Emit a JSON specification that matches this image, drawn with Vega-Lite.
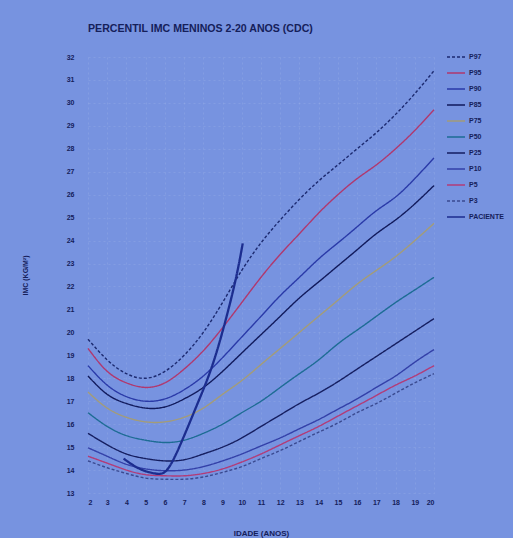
{
  "$schema": "https://vega.github.io/schema/vega-lite/v6.json",
  "width": 346,
  "height": 436,
  "autosize": {"type": "none"},
  "padding": {"left": 88, "top": 57, "right": 79, "bottom": 45},
  "background": "#7793e0",
  "title": {
    "text": "PERCENTIL IMC MENINOS 2-20 ANOS (CDC)",
    "anchor": "start",
    "frame": "group",
    "font": "Liberation Sans",
    "fontSize": 10.6,
    "fontWeight": "bold",
    "color": "#15205a",
    "offset": 12
  },
  "config": {
    "view": {"stroke": null},
    "font": "Liberation Sans",
    "axis": {"labelColor": "#15205a", "titleColor": "#15205a", "labelFont": "Liberation Sans", "titleFont": "Liberation Sans", "labelFontWeight": "bold", "titleFontWeight": "bold", "domain": false, "ticks": false, "gridColor": "#c8d4f4", "gridOpacity": 0.15, "gridDash": [2, 3]}
  },
  "data": {
    "values": [
      {"a":2,"v":19.7,"s":"P97"},{"a":3,"v":18.8,"s":"P97"},{"a":4,"v":18.2,"s":"P97"},{"a":5,"v":18.0,"s":"P97"},{"a":6,"v":18.3,"s":"P97"},{"a":7,"v":19.0,"s":"P97"},{"a":8,"v":20.0,"s":"P97"},{"a":9,"v":21.3,"s":"P97"},{"a":10,"v":22.7,"s":"P97"},{"a":11,"v":23.9,"s":"P97"},{"a":12,"v":24.9,"s":"P97"},{"a":13,"v":25.8,"s":"P97"},{"a":14,"v":26.6,"s":"P97"},{"a":15,"v":27.3,"s":"P97"},{"a":16,"v":28.0,"s":"P97"},{"a":17,"v":28.7,"s":"P97"},{"a":18,"v":29.5,"s":"P97"},{"a":19,"v":30.4,"s":"P97"},{"a":20,"v":31.4,"s":"P97"},
      {"a":2,"v":19.3,"s":"P95"},{"a":3,"v":18.3,"s":"P95"},{"a":4,"v":17.8,"s":"P95"},{"a":5,"v":17.6,"s":"P95"},{"a":6,"v":17.8,"s":"P95"},{"a":7,"v":18.4,"s":"P95"},{"a":8,"v":19.2,"s":"P95"},{"a":9,"v":20.2,"s":"P95"},{"a":10,"v":21.3,"s":"P95"},{"a":11,"v":22.4,"s":"P95"},{"a":12,"v":23.4,"s":"P95"},{"a":13,"v":24.3,"s":"P95"},{"a":14,"v":25.2,"s":"P95"},{"a":15,"v":26.0,"s":"P95"},{"a":16,"v":26.7,"s":"P95"},{"a":17,"v":27.3,"s":"P95"},{"a":18,"v":28.0,"s":"P95"},{"a":19,"v":28.8,"s":"P95"},{"a":20,"v":29.7,"s":"P95"},
      {"a":2,"v":18.55,"s":"P90"},{"a":3,"v":17.7,"s":"P90"},{"a":4,"v":17.2,"s":"P90"},{"a":5,"v":17.0,"s":"P90"},{"a":6,"v":17.1,"s":"P90"},{"a":7,"v":17.5,"s":"P90"},{"a":8,"v":18.1,"s":"P90"},{"a":9,"v":18.9,"s":"P90"},{"a":10,"v":19.8,"s":"P90"},{"a":11,"v":20.7,"s":"P90"},{"a":12,"v":21.6,"s":"P90"},{"a":13,"v":22.4,"s":"P90"},{"a":14,"v":23.2,"s":"P90"},{"a":15,"v":23.9,"s":"P90"},{"a":16,"v":24.6,"s":"P90"},{"a":17,"v":25.3,"s":"P90"},{"a":18,"v":25.9,"s":"P90"},{"a":19,"v":26.7,"s":"P90"},{"a":20,"v":27.6,"s":"P90"},
      {"a":2,"v":18.1,"s":"P85"},{"a":3,"v":17.3,"s":"P85"},{"a":4,"v":16.9,"s":"P85"},{"a":5,"v":16.7,"s":"P85"},{"a":6,"v":16.75,"s":"P85"},{"a":7,"v":17.1,"s":"P85"},{"a":8,"v":17.6,"s":"P85"},{"a":9,"v":18.3,"s":"P85"},{"a":10,"v":19.1,"s":"P85"},{"a":11,"v":19.9,"s":"P85"},{"a":12,"v":20.7,"s":"P85"},{"a":13,"v":21.5,"s":"P85"},{"a":14,"v":22.2,"s":"P85"},{"a":15,"v":22.9,"s":"P85"},{"a":16,"v":23.6,"s":"P85"},{"a":17,"v":24.3,"s":"P85"},{"a":18,"v":24.9,"s":"P85"},{"a":19,"v":25.6,"s":"P85"},{"a":20,"v":26.4,"s":"P85"},
      {"a":2,"v":17.4,"s":"P75"},{"a":3,"v":16.7,"s":"P75"},{"a":4,"v":16.3,"s":"P75"},{"a":5,"v":16.1,"s":"P75"},{"a":6,"v":16.1,"s":"P75"},{"a":7,"v":16.3,"s":"P75"},{"a":8,"v":16.7,"s":"P75"},{"a":9,"v":17.3,"s":"P75"},{"a":10,"v":17.9,"s":"P75"},{"a":11,"v":18.6,"s":"P75"},{"a":12,"v":19.3,"s":"P75"},{"a":13,"v":20.0,"s":"P75"},{"a":14,"v":20.7,"s":"P75"},{"a":15,"v":21.4,"s":"P75"},{"a":16,"v":22.1,"s":"P75"},{"a":17,"v":22.7,"s":"P75"},{"a":18,"v":23.3,"s":"P75"},{"a":19,"v":24.0,"s":"P75"},{"a":20,"v":24.75,"s":"P75"},
      {"a":2,"v":16.5,"s":"P50"},{"a":3,"v":15.9,"s":"P50"},{"a":4,"v":15.5,"s":"P50"},{"a":5,"v":15.3,"s":"P50"},{"a":6,"v":15.2,"s":"P50"},{"a":7,"v":15.3,"s":"P50"},{"a":8,"v":15.6,"s":"P50"},{"a":9,"v":16.0,"s":"P50"},{"a":10,"v":16.5,"s":"P50"},{"a":11,"v":17.0,"s":"P50"},{"a":12,"v":17.6,"s":"P50"},{"a":13,"v":18.2,"s":"P50"},{"a":14,"v":18.8,"s":"P50"},{"a":15,"v":19.5,"s":"P50"},{"a":16,"v":20.1,"s":"P50"},{"a":17,"v":20.7,"s":"P50"},{"a":18,"v":21.3,"s":"P50"},{"a":19,"v":21.85,"s":"P50"},{"a":20,"v":22.4,"s":"P50"},
      {"a":2,"v":15.6,"s":"P25"},{"a":3,"v":15.1,"s":"P25"},{"a":4,"v":14.7,"s":"P25"},{"a":5,"v":14.5,"s":"P25"},{"a":6,"v":14.4,"s":"P25"},{"a":7,"v":14.45,"s":"P25"},{"a":8,"v":14.7,"s":"P25"},{"a":9,"v":15.0,"s":"P25"},{"a":10,"v":15.4,"s":"P25"},{"a":11,"v":15.9,"s":"P25"},{"a":12,"v":16.4,"s":"P25"},{"a":13,"v":16.9,"s":"P25"},{"a":14,"v":17.35,"s":"P25"},{"a":15,"v":17.85,"s":"P25"},{"a":16,"v":18.4,"s":"P25"},{"a":17,"v":18.95,"s":"P25"},{"a":18,"v":19.5,"s":"P25"},{"a":19,"v":20.05,"s":"P25"},{"a":20,"v":20.6,"s":"P25"},
      {"a":2,"v":14.97,"s":"P10"},{"a":3,"v":14.6,"s":"P10"},{"a":4,"v":14.25,"s":"P10"},{"a":5,"v":14.05,"s":"P10"},{"a":6,"v":13.97,"s":"P10"},{"a":7,"v":14.0,"s":"P10"},{"a":8,"v":14.15,"s":"P10"},{"a":9,"v":14.4,"s":"P10"},{"a":10,"v":14.7,"s":"P10"},{"a":11,"v":15.05,"s":"P10"},{"a":12,"v":15.4,"s":"P10"},{"a":13,"v":15.8,"s":"P10"},{"a":14,"v":16.2,"s":"P10"},{"a":15,"v":16.65,"s":"P10"},{"a":16,"v":17.1,"s":"P10"},{"a":17,"v":17.6,"s":"P10"},{"a":18,"v":18.1,"s":"P10"},{"a":19,"v":18.7,"s":"P10"},{"a":20,"v":19.25,"s":"P10"},
      {"a":2,"v":14.6,"s":"P5"},{"a":3,"v":14.3,"s":"P5"},{"a":4,"v":14.0,"s":"P5"},{"a":5,"v":13.8,"s":"P5"},{"a":6,"v":13.75,"s":"P5"},{"a":7,"v":13.75,"s":"P5"},{"a":8,"v":13.85,"s":"P5"},{"a":9,"v":14.05,"s":"P5"},{"a":10,"v":14.35,"s":"P5"},{"a":11,"v":14.7,"s":"P5"},{"a":12,"v":15.1,"s":"P5"},{"a":13,"v":15.5,"s":"P5"},{"a":14,"v":15.9,"s":"P5"},{"a":15,"v":16.35,"s":"P5"},{"a":16,"v":16.8,"s":"P5"},{"a":17,"v":17.25,"s":"P5"},{"a":18,"v":17.7,"s":"P5"},{"a":19,"v":18.1,"s":"P5"},{"a":20,"v":18.55,"s":"P5"},
      {"a":2,"v":14.4,"s":"P3"},{"a":3,"v":14.1,"s":"P3"},{"a":4,"v":13.85,"s":"P3"},{"a":5,"v":13.65,"s":"P3"},{"a":6,"v":13.6,"s":"P3"},{"a":7,"v":13.6,"s":"P3"},{"a":8,"v":13.7,"s":"P3"},{"a":9,"v":13.9,"s":"P3"},{"a":10,"v":14.15,"s":"P3"},{"a":11,"v":14.5,"s":"P3"},{"a":12,"v":14.85,"s":"P3"},{"a":13,"v":15.25,"s":"P3"},{"a":14,"v":15.65,"s":"P3"},{"a":15,"v":16.05,"s":"P3"},{"a":16,"v":16.5,"s":"P3"},{"a":17,"v":16.9,"s":"P3"},{"a":18,"v":17.35,"s":"P3"},{"a":19,"v":17.8,"s":"P3"},{"a":20,"v":18.2,"s":"P3"},
      {"a":3.85,"v":14.5,"s":"PACIENTE"},{"a":4.7,"v":14.05,"s":"PACIENTE"},{"a":5.5,"v":13.85,"s":"PACIENTE"},{"a":6.1,"v":14.0,"s":"PACIENTE"},{"a":6.8,"v":15.1,"s":"PACIENTE"},{"a":7.7,"v":16.9,"s":"PACIENTE"},{"a":8.5,"v":18.64,"s":"PACIENTE"},{"a":9.25,"v":20.82,"s":"PACIENTE"},{"a":9.75,"v":22.57,"s":"PACIENTE"},{"a":10.05,"v":23.88,"s":"PACIENTE"}
    ]
  },
  "mark": {"type": "line", "interpolate": "natural"},
  "encoding": {
    "x": {
      "field": "a", "type": "quantitative",
      "scale": {"domain": [2, 20], "nice": false},
      "axis": {"values": [2,3,4,5,6,7,8,9,10,11,12,13,14,15,16,17,18,19,20], "labelFontSize": 7, "labelPadding": 5, "title": "IDADE (ANOS)", "titleFontSize": 8, "titlePadding": 24, "grid": true}
    },
    "y": {
      "field": "v", "type": "quantitative",
      "scale": {"domain": [13, 32], "nice": false, "zero": false},
      "axis": {"values": [13,14,15,16,17,18,19,20,21,22,23,24,25,26,27,28,29,30,31,32], "labelFontSize": 7, "labelPadding": 14, "title": "IMC (KG/M²)", "titleFontSize": 7, "titlePadding": 38, "grid": true}
    },
    "color": {
      "field": "s", "type": "nominal",
      "scale": {
        "domain": ["P97","P95","P90","P85","P75","P50","P25","P10","P5","P3","PACIENTE"],
        "range": ["#1c2a70","#b0386e","#2a3aa8","#111a5c","#a39c78","#1d6c94","#151e60","#3340a8","#b23c78","#3a4a90","#1c2d8f"]
      },
      "legend": {
        "title": null, "orient": "none", "legendX": 358, "legendY": -10,
        "symbolType": "stroke", "symbolSize": 324, "symbolStrokeWidth": 1.5,
        "labelFont": "Liberation Sans", "labelFontWeight": "bold", "labelFontSize": 7, "labelColor": "#15205a",
        "rowPadding": 3, "labelOffset": 3
      }
    },
    "strokeDash": {
      "field": "s", "type": "nominal",
      "scale": {
        "domain": ["P97","P95","P90","P85","P75","P50","P25","P10","P5","P3","PACIENTE"],
        "range": [[3,2],[1,0],[1,0],[1,0],[1,0],[1,0],[1,0],[1,0],[1,0],[3,2],[1,0]]
      },
      "legend": null
    },
    "strokeWidth": {"condition": {"test": "datum.s === 'PACIENTE'", "value": 2.3}, "value": 1.4}
  }
}
